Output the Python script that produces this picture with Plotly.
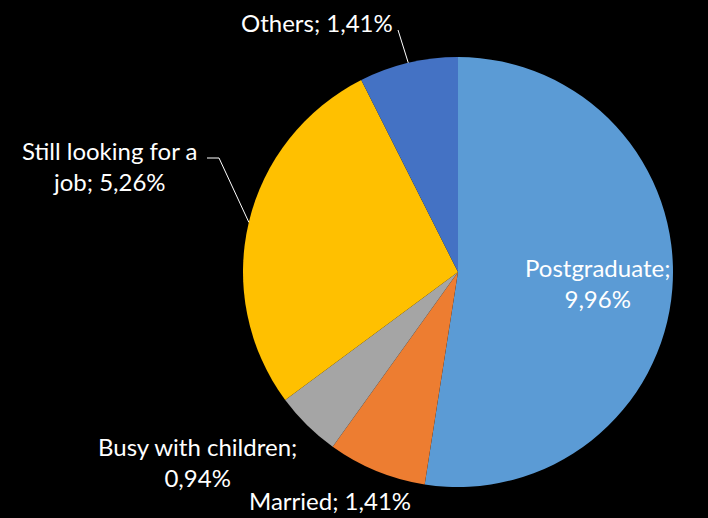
import math
import plotly.graph_objects as go

categories = ["Postgraduate", "Married", "Busy with children", "Still looking for a job", "Others"]
values = [9.96, 1.41, 0.94, 5.26, 1.41]
colors = ["#5B9BD5", "#ED7D31", "#A5A5A5", "#FFC000", "#4472C4"]

W, H = 708, 518
cx, cy, r = 458, 272, 215


def px(x):
    return x / W


def py(y):
    return 1 - y / H


def fmt(v):
    return f"{v:.2f}".replace(".", ",") + "%"


fig = go.Figure(go.Pie(
    labels=categories,
    values=values,
    marker=dict(colors=colors, line=dict(width=0)),
    sort=False,
    direction="clockwise",
    rotation=0,
    textinfo="none",
    hoverinfo="label+value",
    domain=dict(x=[px(cx - r), px(cx + r)], y=[py(cy + r), py(cy - r)]),
    showlegend=False,
))

# label text and placement for each slice
label_text = {
    "Postgraduate": f"Postgraduate;<br>{fmt(values[0])}",
    "Married": f"Married; {fmt(values[1])}",
    "Busy with children": f"Busy with children;<br>{fmt(values[2])}",
    "Still looking for a job": f"Still looking for a<br>job; {fmt(values[3])}",
    "Others": f"Others; {fmt(values[4])}",
}
label_pos = {
    "Postgraduate": (597, 283),
    "Married": (330, 500),
    "Busy with children": (197, 462),
    "Still looking for a job": (110, 166),
    "Others": (317, 22),
}

font = dict(family="Lato", size=24, color="white")
for name in categories:
    x, y = label_pos[name]
    fig.add_annotation(x=px(x), y=py(y), xref="paper", yref="paper",
                       text=label_text[name], showarrow=False, font=font,
                       align="center", xanchor="center", yanchor="middle")

# leader lines ending at the middle of each slice's outer edge
total = sum(values)
mid_angle = {}
acc = 0.0
for name, v in zip(categories, values):
    mid_angle[name] = (acc + v / 2) / total * 2 * math.pi
    acc += v


def edge_point(name):
    a = mid_angle[name]
    return cx + r * math.sin(a), cy - r * math.cos(a)


line = dict(color="white", width=1)
ex, ey = edge_point("Others")
fig.add_shape(type="line", xref="paper", yref="paper",
              x0=px(398), y0=py(30), x1=px(ex), y1=py(ey), line=line)

ex, ey = edge_point("Still looking for a job")
fig.add_shape(type="path", xref="paper", yref="paper",
              path=f"M {px(207)} {py(158)} L {px(219)} {py(158)} L {px(ex)} {py(ey)}",
              line=line)

fig.update_layout(
    width=W, height=H,
    margin=dict(l=0, r=0, t=0, b=0),
    paper_bgcolor="black",
    plot_bgcolor="black",
)

fig.write_html("out.html")
